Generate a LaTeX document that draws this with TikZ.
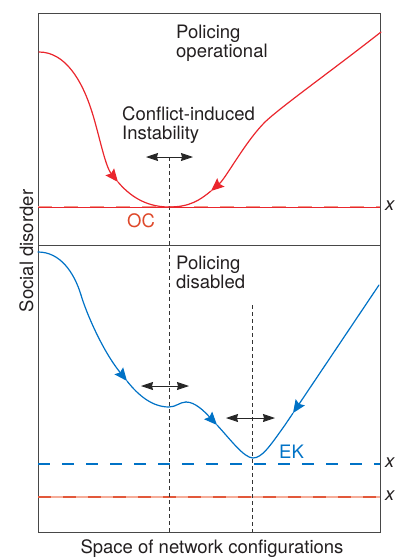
\documentclass[tikz,border=0pt]{standalone}
\usepackage{fontspec}
\setmainfont{TeX Gyre Heros}
\usetikzlibrary{arrows.meta}
\definecolor{cred}{RGB}{234,38,45}
\definecolor{cblue}{RGB}{0,114,198}
\definecolor{ocred}{RGB}{222,72,42}
\definecolor{lred}{RGB}{242,150,135}
\definecolor{salmon}{RGB}{246,172,152}
\definecolor{dred}{RGB}{226,88,58}
\definecolor{txt}{RGB}{35,31,32}
\tikzset{
  lbl/.style={inner sep=0pt, text=txt, font=\fontsize{18.5}{19}\selectfont},
  frame/.style={draw=black!72, line width=0.9pt},
  vdash/.style={draw=black!80, line width=0.7pt, dash pattern=on 4pt off 3pt},
  dbl/.style={draw=black!85, line width=0.9pt, {Stealth[length=12pt,width=8pt,inset=1pt]}-{Stealth[length=12pt,width=8pt,inset=1pt]}},
  curve/.style={line width=1.2pt, line cap=round},
  tipped/.style={curve, -{Stealth[length=13pt,width=11pt,inset=2pt]}},
}
\begin{document}
\begin{tikzpicture}[x=1pt,y=-1pt]
\useasboundingbox (0,0) rectangle (396,558);
% frame
\draw[frame] (38,13) rectangle (380,532);
\draw[frame] (38,245) -- (380,245);
% horizontal reference lines
\draw[lred, line width=2pt, dash pattern=on 14pt off 12pt] (38,207) -- (380,207);
\draw[cred, line width=0.6pt] (38,207) -- (380,207);
\draw[cblue, line width=1.3pt, dash pattern=on 11.5pt off 12.5pt] (38,464) -- (380,464);
\draw[salmon, line width=2pt] (38,497) -- (380,497);
\draw[dred, line width=2pt, dash pattern=on 12.5pt off 12.5pt] (38,497) -- (380,497);
% vertical dashed lines
\draw[vdash] (169,157) -- (169,532);
\draw[vdash] (252,305) -- (252,532);
% double arrows
\draw[dbl] (146,157) -- (193,157);
\draw[dbl] (141,386) -- (189,386);
\draw[dbl] (226,418) -- (275,418);
% red curve
\draw[cred, curve] (39,52) .. controls (65,52) and (82,80) .. (92,112);
\draw[cred, tipped] (92,112) .. controls (99,134) and (105,166) .. (118,182);
\draw[cred, curve] (118,182) .. controls (129,195) and (145,207) .. (169,207)
   .. controls (190,207) and (200,200) .. (211,191);
\draw[cred, tipped] (265,122) .. controls (245,142) and (226,178) .. (211,191);
\draw[cred, curve] (265,122) .. controls (282,106) and (330,72) .. (381,32);
% blue curve
\draw[cblue, curve] (38,252) .. controls (60,252) and (74,272) .. (81,295);
\draw[cblue, tipped] (81,295) .. controls (86,312) and (102,350) .. (127,381);
\draw[cblue, curve] (127,381) .. controls (138,395) and (152,407) .. (169,407)
   .. controls (176,407) and (180,402) .. (186,402);
\draw[cblue, tipped] (186,402) .. controls (195,402) and (204,411) .. (217,425);
\draw[cblue, curve] (217,425) .. controls (230,439) and (244,458) .. (253,458)
   .. controls (262,458) and (270,446) .. (285,425);
\draw[cblue, tipped] (379,285) -- (293,413.1);
\draw[cblue, curve] (293,413.1) -- (285,425);
% texts
\node[lbl, anchor=north west, align=left] (po) at (176,24.5) {Policing\\operational};
\node[lbl, anchor=north west, align=left] (ci) at (122,106.5) {Conflict-induced\\Instability};
\node[lbl, anchor=north west, align=left] (pd) at (176,255.5) {Policing\\disabled};
\node[lbl, anchor=base, text=ocred] (oc) at (141,227) {OC};
\node[lbl, anchor=base west, text=cblue] (ek) at (279,458) {EK};
\node[lbl] (x1) at (390,206) {\textit{x}};
\node[lbl] (x2) at (390,463) {\textit{x}};
\node[lbl] (x3) at (390,496) {\textit{x}};
\node[lbl, rotate=90, anchor=base] (yl) at (33,251) {Social disorder};
\node[lbl, anchor=base] (xl) at (212,553) {Space of network configurations};
\end{tikzpicture}
\end{document}
